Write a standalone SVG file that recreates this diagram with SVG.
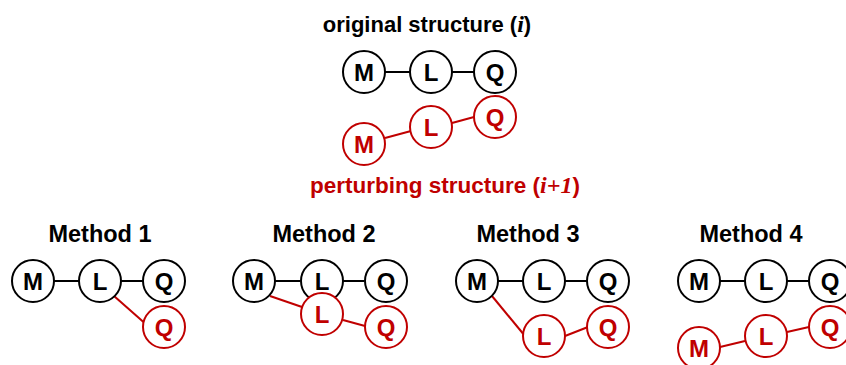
<svg xmlns="http://www.w3.org/2000/svg" width="846" height="365" viewBox="0 0 846 365">
<style>
.t{font-family:"Liberation Sans",Arial,sans-serif;font-weight:bold;font-size:22px;text-anchor:middle}
.it{font-family:"Liberation Serif","Times New Roman",serif;font-style:italic;font-weight:bold;font-size:24px}
.h{font-family:"Liberation Sans",Arial,sans-serif;font-weight:bold;font-size:23.5px;text-anchor:middle;fill:#000}
.bk circle{fill:#fff;stroke:#000;stroke-width:2}
.bk text{font-family:"Liberation Sans",Arial,sans-serif;font-weight:bold;font-size:24px;text-anchor:middle;fill:#000}
.rd circle{fill:#fff;stroke:#C00000;stroke-width:2}
.rd text{font-family:"Liberation Sans",Arial,sans-serif;font-weight:bold;font-size:24px;text-anchor:middle;fill:#C00000}
.kl{stroke:#000;stroke-width:2}
.rl{stroke:#C00000;stroke-width:2}
</style>
<text class="t" x="427" y="32" fill="#000">original structure (<tspan class="it">i</tspan>)</text>
<text class="t" x="445" y="193" fill="#C00000" style="font-size:22.5px">perturbing structure (<tspan class="it">i+1</tspan>)</text>
<text class="h" x="100" y="242">Method 1</text>
<text class="h" x="324" y="242">Method 2</text>
<text class="h" x="528" y="242">Method 3</text>
<text class="h" x="751" y="242">Method 4</text>
<g id="connectors">
<line class="kl" x1="385" y1="72" x2="410" y2="72"/>
<line class="kl" x1="452" y1="72" x2="474" y2="72"/>
<line class="rl" x1="385" y1="138" x2="411" y2="131"/>
<line class="rl" x1="452" y1="123" x2="474" y2="117"/>
<line class="kl" x1="54" y1="281" x2="79" y2="281"/>
<line class="kl" x1="121" y1="281" x2="143" y2="281"/>
<line class="rl" x1="114" y1="296" x2="148" y2="326"/>
<line class="kl" x1="275" y1="281" x2="300" y2="281"/>
<line class="kl" x1="343" y1="281" x2="364" y2="281"/>
<line class="rl" x1="270" y1="296" x2="302" y2="307"/>
<line class="rl" x1="343" y1="320" x2="365" y2="326"/>
<line class="kl" x1="498" y1="281" x2="523" y2="281"/>
<line class="kl" x1="565" y1="281" x2="587" y2="281"/>
<line class="rl" x1="492" y1="296" x2="525" y2="336"/>
<line class="rl" x1="565" y1="336" x2="588" y2="327"/>
<line class="kl" x1="720" y1="281" x2="745" y2="281"/>
<line class="kl" x1="787" y1="281" x2="809" y2="281"/>
<line class="rl" x1="720" y1="347" x2="745" y2="341"/>
<line class="rl" x1="787" y1="332" x2="809" y2="327"/>
</g>
<g id="orig-M" class="bk"><circle cx="364" cy="72" r="21"/><text x="364" y="81">M</text></g>
<g id="orig-L" class="bk"><circle cx="431" cy="72" r="21"/><text x="431" y="81">L</text></g>
<g id="orig-Q" class="bk"><circle cx="495" cy="72" r="21"/><text x="495" y="81">Q</text></g>
<g id="pert-M" class="rd"><circle cx="364" cy="144" r="21"/><text x="364" y="153">M</text></g>
<g id="pert-L" class="rd"><circle cx="431" cy="127" r="21"/><text x="431" y="136">L</text></g>
<g id="pert-Q" class="rd"><circle cx="495" cy="117" r="21"/><text x="495" y="126">Q</text></g>
<g id="m1-M" class="bk"><circle cx="33" cy="281" r="21"/><text x="33" y="290">M</text></g>
<g id="m1-L" class="bk"><circle cx="100" cy="281" r="21"/><text x="100" y="290">L</text></g>
<g id="m1-Q" class="bk"><circle cx="164" cy="281" r="21"/><text x="164" y="290">Q</text></g>
<g id="m1-Qr" class="rd"><circle cx="164" cy="327" r="21"/><text x="164" y="336">Q</text></g>
<g id="m2-M" class="bk"><circle cx="254" cy="281" r="21"/><text x="254" y="290">M</text></g>
<g id="m2-L" class="bk"><circle cx="322" cy="281" r="21"/><text x="322" y="290">L</text></g>
<g id="m2-Q" class="bk"><circle cx="386" cy="281" r="21"/><text x="386" y="290">Q</text></g>
<g id="m2-Lr" class="rd"><circle cx="322" cy="314" r="21"/><text x="322" y="323">L</text></g>
<g id="m2-Qr" class="rd"><circle cx="386" cy="327" r="21"/><text x="386" y="336">Q</text></g>
<g id="m3-M" class="bk"><circle cx="477" cy="281" r="21"/><text x="477" y="290">M</text></g>
<g id="m3-L" class="bk"><circle cx="544" cy="281" r="21"/><text x="544" y="290">L</text></g>
<g id="m3-Q" class="bk"><circle cx="608" cy="281" r="21"/><text x="608" y="290">Q</text></g>
<g id="m3-Lr" class="rd"><circle cx="544" cy="336" r="21"/><text x="544" y="345">L</text></g>
<g id="m3-Qr" class="rd"><circle cx="608" cy="327" r="21"/><text x="608" y="336">Q</text></g>
<g id="m4-M" class="bk"><circle cx="699" cy="281" r="21"/><text x="699" y="290">M</text></g>
<g id="m4-L" class="bk"><circle cx="766" cy="281" r="21"/><text x="766" y="290">L</text></g>
<g id="m4-Q" class="bk"><circle cx="830" cy="281" r="21"/><text x="830" y="290">Q</text></g>
<g id="m4-Mr" class="rd"><circle cx="699" cy="348" r="21"/><text x="699" y="357">M</text></g>
<g id="m4-Lr" class="rd"><circle cx="766" cy="336" r="21"/><text x="766" y="345">L</text></g>
<g id="m4-Qr" class="rd"><circle cx="830" cy="327" r="21"/><text x="830" y="336">Q</text></g>
</svg>
